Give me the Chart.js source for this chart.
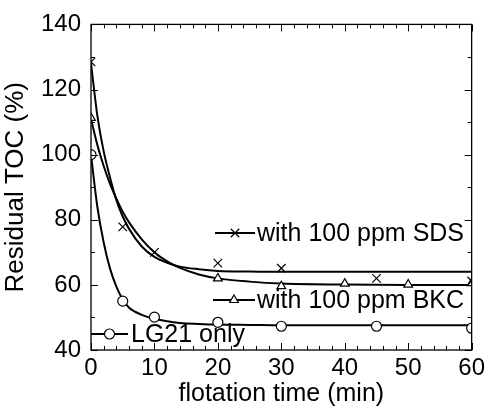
<!DOCTYPE html>
<html>
<head>
<meta charset="utf-8">
<script src="https://cdn.jsdelivr.net/npm/chart.js@4/dist/chart.umd.min.js"></script>
<style>
  html, body { margin: 0; padding: 0; background: #fff; }
  #wrap { width: 489px; height: 409px; }
</style>
</head>
<body>
<div id="wrap"><canvas id="tocChart"></canvas></div>
<script>
"use strict";

const timeSDS = [0, 5, 10, 20, 30, 45, 60];
const tocSDS = [128.5, 77.8, 70.0, 66.7, 65.1, 62.0, 61.2];
const timeBKC = [0, 20, 30, 40, 50, 60];
const tocBKC = [111.3, 62.0, 59.6, 60.4, 60.1, 60.5];
const timeLG = [0, 5, 10, 20, 30, 45, 60];
const tocLG = [100.0, 55.0, 50.1, 48.5, 47.3, 47.3, 46.7];

// fitted curves
const fitTime = [0, 1, 2, 3, 4, 5, 6, 8, 10, 12, 14, 17, 20, 25, 30, 40, 50, 60];
const fitSDS = [128, 112, 101, 93, 86, 81, 77.2, 71.8, 68.6, 66.8, 65.6, 64.8, 64.3, 64.1, 64, 64, 64, 64];
const fitBKC = [111, 103, 96.5, 91, 86.5, 82.5, 79.2, 74, 70, 67.2, 65.2, 63.2, 62, 61, 60.4, 60.1, 60, 60];
const fitLG = [100, 84, 73, 65, 59.5, 55.5, 53, 50.8, 49.6, 48.8, 48.3, 48, 47.8, 47.7, 47.6, 47.6, 47.6, 47.6];

const xTicks = [0, 10, 20, 30, 40, 50, 60];
const yTicks = [40, 60, 80, 100, 120, 140];

const legendLabels = ['with 100 ppm SDS', 'with 100 ppm BKC', 'LG21 only'];

const FONT = '"Liberation Sans", Arial, sans-serif';

const toPoints = (xs, ys) => xs.map((x, i) => ({x: x, y: ys[i]}));

const fitLine = (xs, ys) => ({
    type: 'line',
    data: toPoints(xs, ys),
    borderColor: '#000',
    borderWidth: 2,
    pointRadius: 0,
    cubicInterpolationMode: 'monotone',
    order: 2
});

const markers = (xs, ys, style, r) => ({
    type: 'scatter',
    data: toPoints(xs, ys),
    pointStyle: style,
    pointRadius: r,
    pointBorderColor: '#000',
    pointBackgroundColor: '#fff',
    pointBorderWidth: 1.2,
    showLine: false,
    order: 1
});

// frame with inward ticks on all four sides
const frameTicks = {
    id: 'frameTicks',
    afterDraw(chart) {
        const ctx = chart.ctx;
        const a = chart.chartArea;
        const xs = chart.scales.x;
        const ys = chart.scales.y;
        ctx.save();
        ctx.strokeStyle = '#000';
        ctx.lineWidth = 1.3;
        ctx.strokeRect(a.left, a.top, a.right - a.left, a.bottom - a.top);
        ctx.lineWidth = 1;
        ctx.beginPath();
        for (let v = 0; v <= 60; v += 2) {
            const px = Math.round(xs.getPixelForValue(v)) + 0.5;
            const len = (v % 10 === 0) ? 7 : 4;
            ctx.moveTo(px, a.bottom); ctx.lineTo(px, a.bottom - len);
            ctx.moveTo(px, a.top); ctx.lineTo(px, a.top + len);
        }
        for (let v = 40; v <= 140; v += 10) {
            const py = Math.round(ys.getPixelForValue(v)) + 0.5;
            const len = (v % 20 === 0) ? 7 : 4;
            ctx.moveTo(a.left, py); ctx.lineTo(a.left + len, py);
            ctx.moveTo(a.right, py); ctx.lineTo(a.right - len, py);
        }
        ctx.stroke();
        ctx.restore();
    }
};

// legend entries written inside the plot
const innerLegend = {
    id: 'innerLegend',
    afterDatasetsDraw(chart, args, opts) {
        const ctx = chart.ctx;
        ctx.save();
        ctx.font = '25px ' + FONT;
        ctx.textBaseline = 'middle';
        opts.items.forEach((it) => {
            ctx.strokeStyle = '#000';
            ctx.lineWidth = 2;
            ctx.beginPath();
            ctx.moveTo(it.x0, it.y);
            ctx.lineTo(it.x1, it.y);
            ctx.stroke();
            ctx.fillStyle = '#fff';
            ctx.lineWidth = 1.2;
            Chart.helpers.drawPoint(ctx, {pointStyle: it.style, radius: it.r, borderWidth: 1.2},
                (it.x0 + it.x1) / 2, it.y);
            ctx.fillStyle = '#000';
            ctx.fillText(it.text, it.tx, it.y + 1);
        });
        ctx.restore();
    }
};

new Chart(document.getElementById('tocChart'), {
    data: {
        datasets: [
            fitLine(fitTime, fitSDS),
            fitLine(fitTime, fitBKC),
            fitLine(fitTime, fitLG),
            markers(timeSDS, tocSDS, 'crossRot', 6),
            markers(timeBKC, tocBKC, 'triangle', 5),
            markers(timeLG, tocLG, 'circle', 5)
        ]
    },
    options: {
        responsive: true,
        maintainAspectRatio: false,
        animation: false,
        layout: {padding: {top: 22, right: 14, left: 0, bottom: 0}},
        plugins: {
            legend: {display: false},
            tooltip: {enabled: false},
            innerLegend: {
                items: [
                    {text: legendLabels[0], x0: 215, x1: 255, y: 233, tx: 257, style: 'crossRot', r: 6},
                    {text: legendLabels[1], x0: 213, x1: 255, y: 300, tx: 257, style: 'triangle', r: 5},
                    {text: legendLabels[2], x0: 91, x1: 128, y: 334, tx: 131, style: 'circle', r: 5}
                ]
            }
        },
        scales: {
            x: {
                type: 'linear',
                min: 0, max: 60,
                afterFit: (s) => { s.height = 59; },
                afterBuildTicks: (s) => { s.ticks = xTicks.map(v => ({value: v})); },
                grid: {display: false, drawTicks: false},
                border: {display: false},
                ticks: {color: '#000', padding: 4, font: {family: FONT, size: 24}},
                title: {display: true, text: 'flotation time (min)', color: '#000',
                    padding: {top: 0, bottom: 0}, font: {family: FONT, size: 25}}
            },
            y: {
                type: 'linear',
                min: 40, max: 140,
                afterFit: (s) => { s.width = 91; },
                afterBuildTicks: (s) => { s.ticks = yTicks.map(v => ({value: v})); },
                grid: {display: false, drawTicks: false},
                border: {display: false},
                ticks: {color: '#000', padding: 10, font: {family: FONT, size: 24}},
                title: {display: true, text: 'Residual TOC (%)', color: '#000',
                    padding: {top: 0, bottom: 0}, font: {family: FONT, size: 26}}
            }
        }
    },
    plugins: [frameTicks, innerLegend]
});
</script>
</body>
</html>
